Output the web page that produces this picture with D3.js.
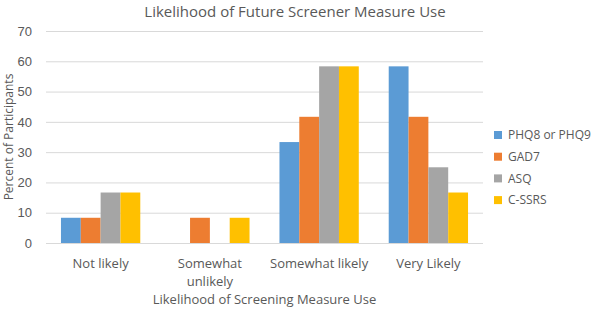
<!DOCTYPE html>
<html>
  <head>
    <meta charset="utf-8">
    <title>Likelihood of Future Screener Measure Use</title>
    <script src="https://d3js.org/d3.v7.min.js"></script>
    <style>
      body { margin: 0; background: #fff; }
      svg { font-family: "Open Sans", sans-serif; fill: #595959; }
      .tick line { stroke: #d9d9d9; }
      .domain { display: none; }
    </style>
  </head>
  <body>
    <svg id="chart" width="595" height="309"></svg>
    <script>
      // data
      categories = ["Not likely", "Somewhat unlikely", "Somewhat likely", "Very Likely"];
      seriesNames = ["PHQ8 or PHQ9", "GAD7", "ASQ", "C-SSRS"];
      colours = ["#5b9bd5", "#ed7d31", "#a5a5a5", "#ffc000"];
      phq = [8.33, 0, 33.33, 58.33];
      gad = [8.33, 8.33, 41.67, 41.67];
      asq = [16.67, 0, 58.33, 25];
      cssrs = [16.67, 8.33, 58.33, 16.67];
      yTicks = [0, 10, 20, 30, 40, 50, 60, 70];
      values = [phq, gad, asq, cssrs];

      chart = d3.select("#chart");
      margin = { top: 31, right: 112, bottom: 66, left: 46 };
      width = 595;
      height = 309;

      // scales
      x0 = d3.scaleBand()
        .domain(categories)
        .range([margin.left, width - margin.right]);
      gap = x0.bandwidth() * 0.274;
      x1 = d3.scaleBand()
        .domain(seriesNames)
        .range([gap / 2, x0.bandwidth() - gap / 2]);
      y = d3.scaleLinear()
        .domain([0, 70])
        .range([height - margin.bottom, margin.top]);

      // gridlines and y axis
      chart.append("g")
        .attr("transform", "translate(" + margin.left + ",0)")
        .call(d3.axisLeft(y)
          .tickValues(yTicks)
          .tickSize(-(width - margin.right - margin.left))
          .tickPadding(14))
        .call(function(g) {
          g.selectAll("text").style("font-size", "13px").attr("fill", "#595959");
        });

      // bars
      seriesNames.forEach(function(s, si) {
        chart.append("g")
          .selectAll("rect")
          .data(values[si])
          .join("rect")
          .attr("x", function(d, i) { return x0(categories[i]) + x1(s); })
          .attr("width", x1.bandwidth())
          .attr("y", function(d) { return y(d); })
          .attr("height", function(d) { return y(0) - y(d); })
          .attr("fill", colours[si]);
      });

      // category labels
      catLabels = chart.append("g")
        .selectAll("text")
        .data(categories)
        .join("text")
        .attr("x", function(d) { return x0(d) + x0.bandwidth() / 2; })
        .attr("y", 268)
        .attr("text-anchor", "middle")
        .style("font-size", "13px");
      catLabels.each(function(d) {
        let t = d3.select(this);
        let lines = d == "Somewhat unlikely" ? ["Somewhat", "unlikely"] : [d];
        lines.forEach(function(l, i) {
          t.append("tspan")
            .attr("x", x0(d) + x0.bandwidth() / 2)
            .attr("dy", i == 0 ? 0 : 18)
            .text(l);
        });
      });

      // titles
      chart.append("text")
        .attr("x", 295)
        .attr("y", 17)
        .attr("text-anchor", "middle")
        .style("font-size", "15px")
        .text("Likelihood of Future Screener Measure Use");
      chart.append("text")
        .attr("x", (margin.left + width - margin.right) / 2)
        .attr("y", 304)
        .attr("text-anchor", "middle")
        .style("font-size", "13px")
        .text("Likelihood of Screening Measure Use");
      chart.append("text")
        .attr("transform", "translate(13," + ((margin.top + height - margin.bottom) / 2) + ") rotate(-90)")
        .attr("text-anchor", "middle")
        .style("font-size", "12px")
        .text("Percent of Participants");

      // legend
      legend = chart.append("g")
        .selectAll("g")
        .data(seriesNames)
        .join("g")
        .attr("transform", function(d, i) { return "translate(494," + (135 + i * 21.7) + ")"; });
      legend.append("rect")
        .attr("y", -4)
        .attr("width", 8)
        .attr("height", 8)
        .attr("fill", function(d, i) { return colours[i]; });
      legend.append("text")
        .attr("x", 14)
        .attr("dy", "0.35em")
        .style("font-size", "12px")
        .text(function(d) { return d; });
    </script>
  </body>
</html>
